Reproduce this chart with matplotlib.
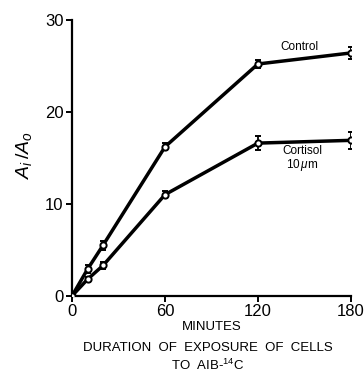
import numpy as np
import matplotlib.pyplot as plt

plt.rcParams['font.family'] = ['Liberation Sans', 'DejaVu Sans']
plt.rcParams['mathtext.fontset'] = 'custom'
plt.rcParams['mathtext.it'] = 'Liberation Sans:italic'
plt.rcParams['mathtext.rm'] = 'Liberation Sans'

minutes = [0, 10, 20, 60, 120, 180]
control = [0, 2.9, 5.5, 16.2, 25.2, 26.4]
control_err = [0, 0.4, 0.5, 0.4, 0.4, 0.7]
cortisol = [0, 1.8, 3.3, 11.0, 16.6, 16.9]
cortisol_err = [0, 0.3, 0.4, 0.4, 0.8, 0.9]

fig = plt.figure(figsize=(3.64, 3.74), dpi=100)
ax = fig.add_axes([0.198, 0.209, 0.766, 0.738])

for y, e in [(control, control_err), (cortisol, cortisol_err)]:
    ax.errorbar(minutes, y, yerr=e, color='black', lw=2.5, marker='o', ms=4.5,
                mfc='white', mec='black', mew=1.4, capsize=2.5, elinewidth=1.3,
                capthick=1.3, zorder=3)

ax.set_xlim(0, 180)
ax.set_ylim(0, 30)
ax.set_xticks([0, 60, 120, 180])
ax.set_yticks([0, 10, 20, 30])
for s in ['top', 'right']:
    ax.spines[s].set_visible(False)
for s in ['left', 'bottom']:
    ax.spines[s].set_linewidth(1.6)
ax.tick_params(direction='out', length=4, width=1.4, labelsize=12, pad=2)

ax.text(0.5, -0.113, 'MINUTES', transform=ax.transAxes, ha='center', va='center', fontsize=9.5)
ax.text(0.487, -0.19, 'DURATION  OF  EXPOSURE  OF  CELLS', transform=ax.transAxes,
        ha='center', va='center', fontsize=9.5)
ax.text(0.487, -0.252, 'TO  AIB-$^{14}$C', transform=ax.transAxes, ha='center', va='center', fontsize=9.5)

fig.text(0.065, 0.585, '$A_i\\,/A_o$', rotation=90, ha='center', va='center', fontsize=14)

ax.text(0.817, 0.902, 'Control', transform=ax.transAxes, ha='center', va='center', fontsize=8.5)
ax.text(0.826, 0.525, 'Cortisol', transform=ax.transAxes, ha='center', va='center', fontsize=8.5)
ax.text(0.826, 0.474, '10$\\,\\mu$m', transform=ax.transAxes, ha='center', va='center', fontsize=8.5)

fig.savefig('out.png', dpi=100)
